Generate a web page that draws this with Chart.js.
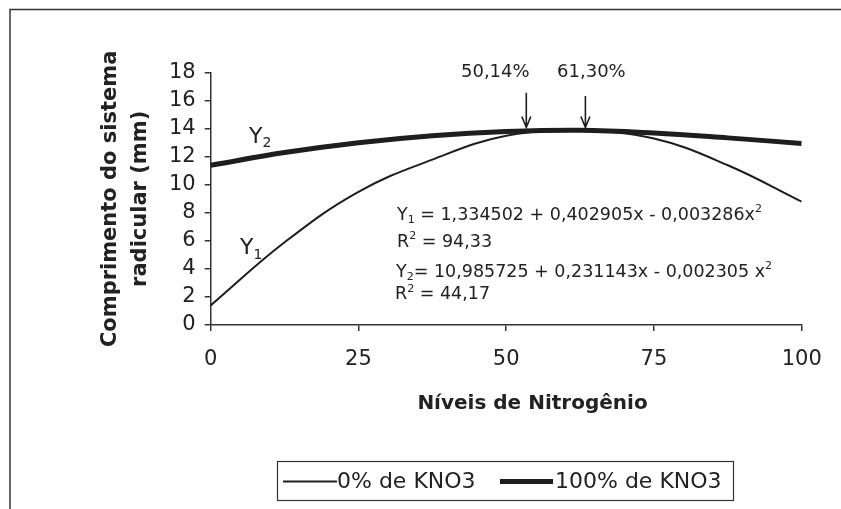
<!DOCTYPE html>
<html><head><meta charset="utf-8">
<script src="https://cdn.jsdelivr.net/npm/chart.js@4.4.1/dist/chart.umd.min.js"></script>
<style>html,body{margin:0;padding:0;background:#fff;} #wrap{width:841px;height:509px;position:relative;}</style>
</head><body><div id="wrap"><canvas id="c" width="841" height="509"></canvas></div>
<script>
// ---- data ----
const nitrogenLevels = [0, 12.5, 25, 37.5, 50, 62.5, 75, 87.5, 100];
const y1Values = [1.4, 5.9, 9.5, 11.8, 13.5, 13.85, 13.3, 11.4, 8.8];       // 0% de KNO3
const y2Values = [11.4, 12.3, 13.0, 13.5, 13.8, 13.9, 13.7, 13.35, 12.95];  // 100% de KNO3
const xTickValues = [0, 25, 50, 75, 100];
const yTickValues = [0, 2, 4, 6, 8, 10, 12, 14, 16, 18];
const seriesNames = ['0% de KNO3', '100% de KNO3'];
const xTitle = 'Níveis de Nitrogênio';
const yTitle = ['Comprimento do sistema', 'radicular (mm)'];
const arrowLabels = ['50,14%', '61,30%'];
const arrowXValues = [53.4, 63.4];
const arrowTipValue = 13.95;
const eqY1 = ['Y', '1', ' = 1,334502 + 0,402905x - 0,003286x', '2'];
const r2Y1 = ['R', '2', ' = 94,33'];
const eqY2 = ['Y', '2', '= 10,985725 + 0,231143x - 0,002305 x', '2'];
const r2Y2 = ['R', '2', ' = 44,17'];

const FONT = 'DejaVu Sans';
const INK = '#1e1e1e';

function pts(vals){ return nitrogenLevels.map((x,i)=>({x:x,y:vals[i]})); }

function drawRich(ctx, x, y, parts, kinds, size){
  ctx.textBaseline = 'alphabetic';
  ctx.textAlign = 'left';
  let cx = x;
  parts.forEach((t,i)=>{
    const k = kinds[i];
    if (k === 'n'){ ctx.font = size+'px "'+FONT+'"'; ctx.fillText(t,cx,y); }
    else if (k === 'sub'){ ctx.font = Math.round(size*0.62)+'px "'+FONT+'"'; ctx.fillText(t,cx,y+size*0.22); }
    else { ctx.font = Math.round(size*0.62)+'px "'+FONT+'"'; ctx.fillText(t,cx,y-size*0.42); }
    cx += ctx.measureText(t).width;
  });
}

const decor = {
  id: 'decor',
  beforeDraw(chart){
    const ctx = chart.ctx;
    ctx.save();
    ctx.fillStyle = '#fff'; ctx.fillRect(0,0,chart.width,chart.height);
    ctx.strokeStyle = '#333'; ctx.lineWidth = 1.5;
    ctx.beginPath();
    ctx.moveTo(10, 509); ctx.lineTo(10, 9.5); ctx.lineTo(841, 9.5);
    ctx.stroke();
    ctx.restore();
  },
  afterDraw(chart){
    const ctx = chart.ctx, xs = chart.scales.x, ys = chart.scales.y;
    ctx.save();
    ctx.fillStyle = '#222';
    ctx.font = 'bold 20px "'+FONT+'"';
    ctx.textAlign = 'center'; ctx.textBaseline = 'alphabetic';
    ctx.fillText(xTitle, 532.5, 408.5);

    drawRich(ctx, 249, 142.5, ['Y','2'], ['n','sub'], 22);
    drawRich(ctx, 240, 254, ['Y','1'], ['n','sub'], 22);

    drawRich(ctx, 397, 219.5, eqY1, ['n','sub','n','sup'], 17.5);
    drawRich(ctx, 397, 246.5, r2Y1, ['n','sup','n'], 17.5);
    drawRich(ctx, 396, 276.5, eqY2, ['n','sub','n','sup'], 17.5);
    drawRich(ctx, 395, 299, r2Y2, ['n','sup','n'], 17.5);

    ctx.strokeStyle = INK; ctx.lineWidth = 1.6;
    const tops = [92.7, 96];
    const labelDx = [-31, 6];
    arrowXValues.forEach((xv,i)=>{
      const px = xs.getPixelForValue(xv);
      const tip = ys.getPixelForValue(arrowTipValue) - 2;
      ctx.beginPath();
      ctx.moveTo(px, tops[i]); ctx.lineTo(px, tip);
      ctx.moveTo(px-4.5, tip-11); ctx.lineTo(px, tip); ctx.lineTo(px+4.5, tip-11);
      ctx.stroke();
      ctx.font = '18px "'+FONT+'"';
      ctx.textAlign = 'center'; ctx.textBaseline = 'middle';
      ctx.fillText(arrowLabels[i], px + labelDx[i], 72);
    });

    ctx.strokeStyle = '#333'; ctx.lineWidth = 1.2;
    ctx.strokeRect(277.5, 461.5, 456, 39);
    const ly = 481.5;
    ctx.strokeStyle = INK;
    ctx.lineWidth = 2; ctx.beginPath(); ctx.moveTo(283, ly); ctx.lineTo(337, ly); ctx.stroke();
    ctx.lineWidth = 5; ctx.beginPath(); ctx.moveTo(500, ly); ctx.lineTo(553, ly); ctx.stroke();
    ctx.font = '22px "'+FONT+'"'; ctx.textAlign = 'left'; ctx.textBaseline = 'middle';
    ctx.fillStyle = '#222';
    ctx.fillText(seriesNames[0], 337, ly+1);
    ctx.fillText(seriesNames[1], 555, ly+1);
    ctx.restore();
  }
};

const gridOpts = { display:true, drawOnChartArea:false, drawTicks:true, tickLength:6, color:'#333', lineWidth:1.5 };
const borderOpts = { display:true, color:'#333', width:1.5 };

new Chart(document.getElementById('c'), {
  type: 'line',
  data: {
    datasets: [
      { label: seriesNames[0], data: pts(y1Values), borderColor: INK, borderWidth: 2, pointRadius: 0, tension: 0.4, fill: false },
      { label: seriesNames[1], data: pts(y2Values), borderColor: INK, borderWidth: 5, pointRadius: 0, tension: 0.4, fill: false }
    ]
  },
  options: {
    responsive: false, animation: false,
    layout: { padding: { left: 0, top: 72.7, right: 39.3, bottom: 0 } },
    plugins: { legend: { display: false }, tooltip: { enabled: false } },
    scales: {
      x: {
        type: 'linear', min: 0, max: 100,
        afterBuildTicks: s => { s.ticks = xTickValues.map(v => ({ value: v })); },
        ticks: { font: { family: FONT, size: 21 }, color: '#222', padding: 16, maxRotation: 0, autoSkip: false },
        grid: gridOpts, border: borderOpts,
        afterFit: s => { s.height = 184; }
      },
      y: {
        type: 'linear', min: 0, max: 18,
        afterBuildTicks: s => { s.ticks = yTickValues.map(v => ({ value: v })); },
        ticks: { font: { family: FONT, size: 21 }, color: '#222', padding: 9, autoSkip: false },
        grid: gridOpts, border: borderOpts,
        title: { display: true, text: yTitle, color: '#222',
                 font: { family: FONT, size: 21, weight: 'bold', lineHeight: 30/21 },
                 padding: { top: 96, bottom: 0 } },
        afterFit: s => { s.width = 210.7; }
      }
    }
  },
  plugins: [decor]
});
</script>
</body></html>
